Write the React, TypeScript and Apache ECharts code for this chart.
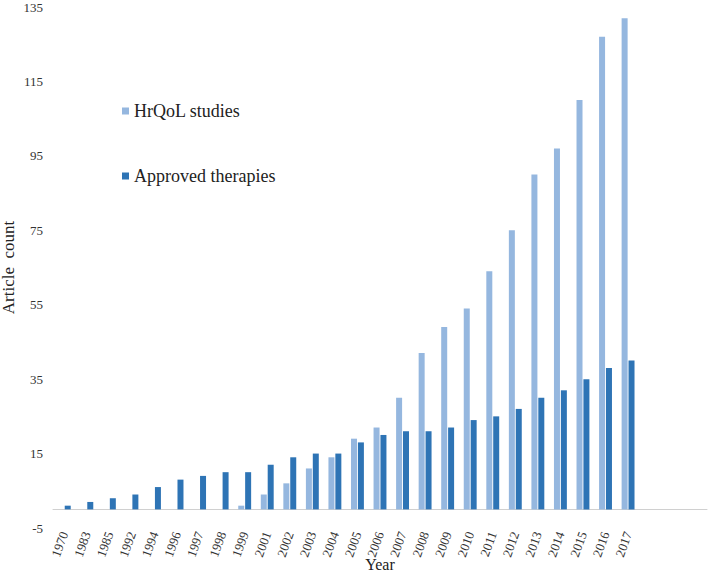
import React, { useEffect, useRef } from "react";
import * as echarts from "echarts";

const years = [
  "1970", "1983", "1985", "1992", "1994", "1996", "1997", "1998", "1999",
  "2001", "2002", "2003", "2004", "2005", "2006", "2007", "2008", "2009",
  "2010", "2011", "2012", "2013", "2014", "2015", "2016", "2017", "", "", "",
];
const hrqolStudies = [
  0, 0, 0, 0, 0, 0, 0, 0, 1,
  4, 7, 11, 14, 19, 22, 30, 42, 49,
  54, 64, 75, 90, 97, 110, 127, 132, null, null, null,
];
const approvedTherapies = [
  1, 2, 3, 4, 6, 8, 9, 10, 10,
  12, 14, 15, 15, 18, 20, 21, 21, 22,
  24, 25, 27, 30, 32, 35, 38, 40, null, null, null,
];
const yTicks = { min: -5, max: 135, interval: 20 };

const FONT = "'Liberation Serif', 'Times New Roman', serif";

export default function App() {
  const ref = useRef<HTMLDivElement>(null);
  useEffect(() => {
    if (!ref.current) return;
    const chart = echarts.init(ref.current, undefined, { renderer: "svg" });
    chart.setOption({
      animation: false,
      backgroundColor: "#ffffff",
      grid: {
        left: 53,
        right: 2,
        top: 7,
        bottom: 43,
        containLabel: false,
        outerBoundsMode: "none",
      },
      legend: {
        orient: "vertical",
        left: 122,
        top: 102,
        padding: 0,
        itemWidth: 7,
        itemHeight: 7,
        itemGap: 47,
        itemTextGap: 4,
        icon: "rect",
        textStyle: { fontFamily: FONT, fontSize: 18, color: "#222" },
        data: ["HrQoL studies", "Approved therapies"],
      },
      xAxis: {
        type: "category",
        data: years,
        name: "Year",
        nameLocation: "middle",
        nameGap: 28,
        nameMoveOverlap: false,
        nameTextStyle: { fontFamily: FONT, fontSize: 16, color: "#222" },
        axisLine: { onZero: true, lineStyle: { color: "#d0d0d0", width: 1 } },
        axisTick: { show: false },
        axisLabel: {
          rotate: 70,
          interval: 0,
          margin: 4,
          fontFamily: FONT,
          fontSize: 13,
          color: "#333",
        },
      },
      yAxis: {
        type: "value",
        min: yTicks.min,
        max: yTicks.max,
        interval: yTicks.interval,
        name: "Article  count",
        nameLocation: "middle",
        nameGap: 36,
        nameMoveOverlap: false,
        nameTextStyle: { fontFamily: FONT, fontSize: 17, color: "#222" },
        axisLine: { show: false },
        axisTick: { show: false },
        splitLine: { show: false },
        axisLabel: { fontFamily: FONT, fontSize: 13, color: "#333", margin: 10 },
      },
      series: [
        {
          name: "HrQoL studies",
          type: "bar",
          data: hrqolStudies,
          barWidth: 6,
          barGap: "15%",
          itemStyle: { color: "#95B7DF" },
        },
        {
          name: "Approved therapies",
          type: "bar",
          data: approvedTherapies,
          barWidth: 6,
          barGap: "15%",
          itemStyle: { color: "#2E74B5" },
        },
      ],
    });
    return () => chart.dispose();
  }, []);
  return (
    <div
      ref={ref}
      style={{ position: "fixed", left: 0, top: 0, width: 709, height: 571 }}
    />
  );
}
